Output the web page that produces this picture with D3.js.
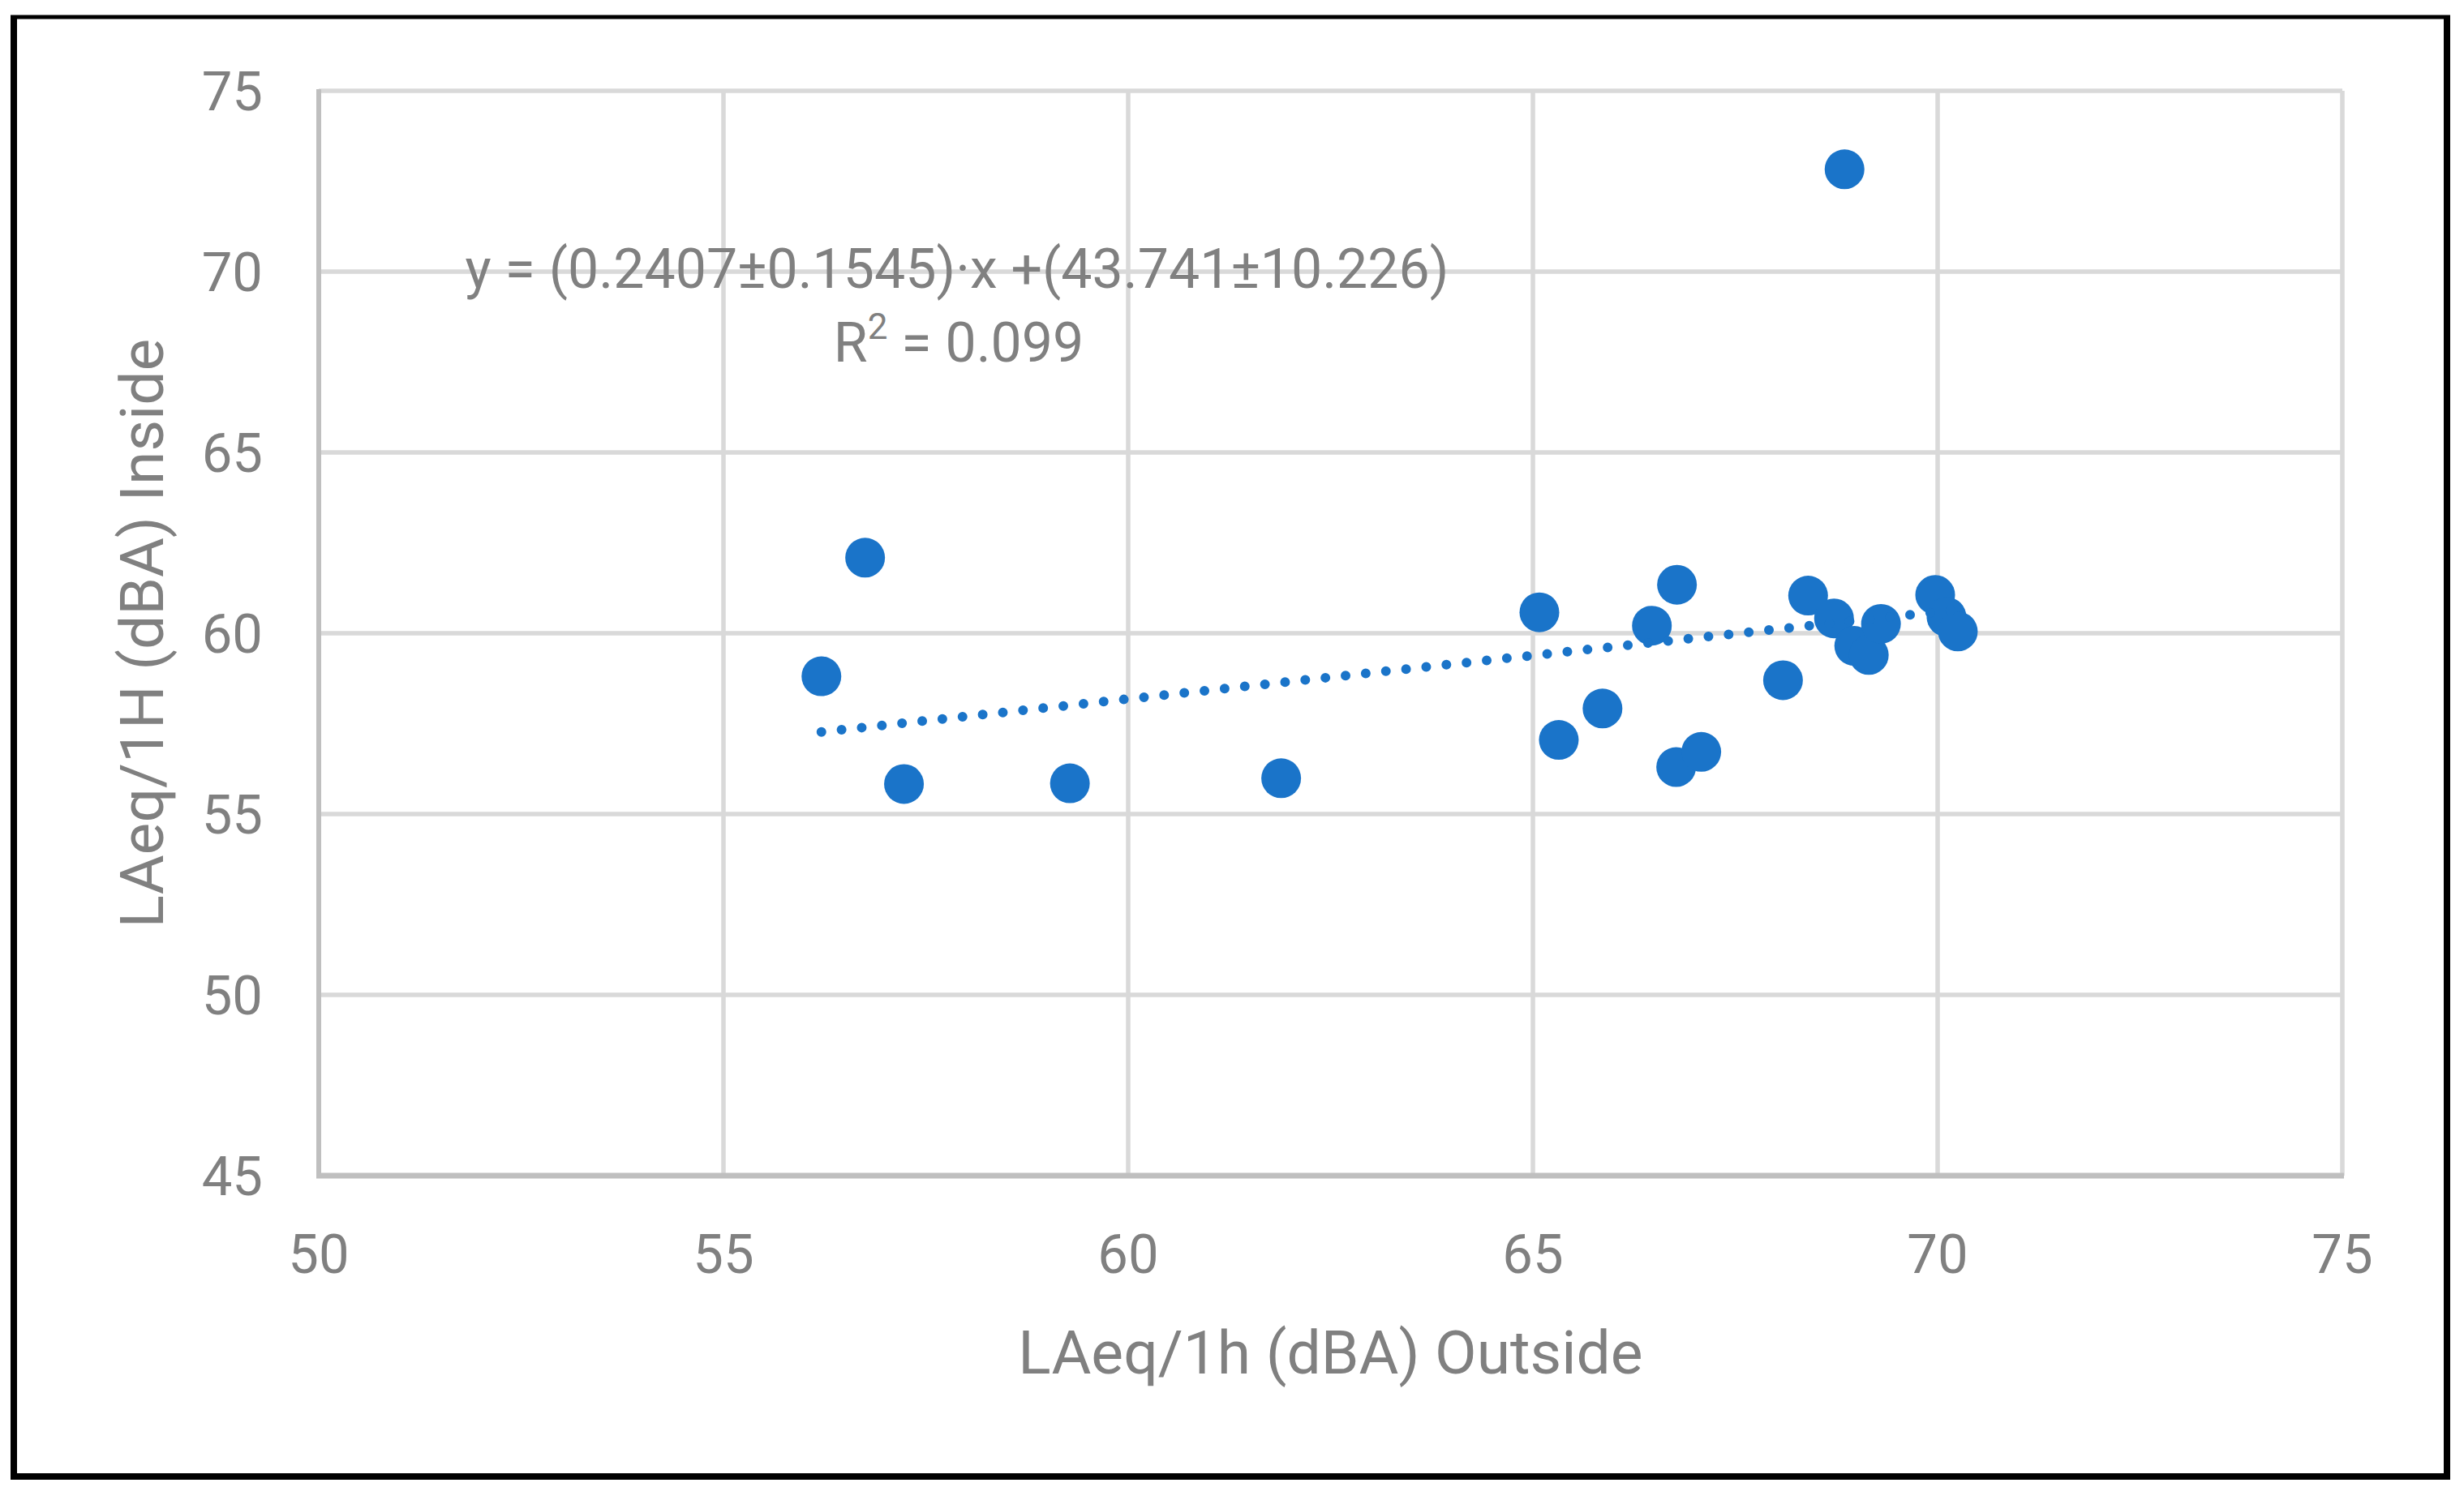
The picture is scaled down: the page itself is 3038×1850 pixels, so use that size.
<!DOCTYPE html>
<html>
<head>
<meta charset="utf-8">
<script src="https://cdn.jsdelivr.net/npm/d3@7"></script>
<style>
  html, body { margin: 0; padding: 0; background: #ffffff; }
  svg { display: block; }
  text { font-family: Roboto, "Open Sans", "Liberation Sans", sans-serif; fill: #808080; }
</style>
</head>
<body>
<script>
// ---- data ----
const outsideX = [56.21, 56.75, 57.23, 59.28, 61.89, 65.08, 65.32, 65.86, 66.47, 66.78, 66.77,
                  67.08, 68.09, 68.40, 68.72, 68.85, 68.97, 69.15, 69.30, 69.97, 70.11, 70.25];
const insideY  = [58.81, 62.09, 55.83, 55.85, 55.99, 60.58, 57.05, 57.92, 60.21, 61.34, 56.30,
                  56.72, 58.70, 61.04, 60.41, 72.83, 59.65, 59.40, 60.26, 61.06, 60.45, 60.05];
const xTicks = [50, 55, 60, 65, 70, 75];
const yTicks = [45, 50, 55, 60, 65, 70, 75];
const trendSlope = 0.2407;
const trendIntercept = 43.741;
const equationLines = ["y = (0.2407±0.1545)·x +(43.741±10.226)"];
const r2Label = "0.099";
const xTitle = "LAeq/1h (dBA) Outside";
const yTitle = "LAeq/1H (dBA) Inside";

// ---- layout ----
const W = 3038, H = 1850;
const plot = { left: 393, right: 2888, top: 112, bottom: 1450 };
const blue = "#1a74c9";

const svg = d3.select("body").append("svg")
  .attr("width", W).attr("height", H)
  .attr("viewBox", `0 0 ${W} ${H}`);

svg.append("rect").attr("width", W).attr("height", H).attr("fill", "#fff");

const x = d3.scaleLinear().domain([50, 75]).range([plot.left, plot.right]);
const y = d3.scaleLinear().domain([45, 75]).range([plot.bottom, plot.top]);

// gridlines
const grid = svg.append("g");
grid.selectAll("line.h").data(yTicks.filter(v => v !== 45)).join("line")
  .attr("x1", plot.left).attr("x2", plot.right)
  .attr("y1", d => y(d)).attr("y2", d => y(d))
  .attr("stroke", "#d9d9d9").attr("stroke-width", 5.5);
grid.selectAll("line.v").data(xTicks.filter(v => v !== 50)).join("line")
  .attr("y1", plot.top).attr("y2", plot.bottom)
  .attr("x1", d => x(d)).attr("x2", d => x(d))
  .attr("stroke", "#d9d9d9").attr("stroke-width", 5.5);

// axis lines
svg.append("line").attr("x1", x(50)).attr("x2", x(50)).attr("y1", plot.top - 2).attr("y2", plot.bottom)
  .attr("stroke", "#bfbfbf").attr("stroke-width", 6);
svg.append("line").attr("x1", x(50) - 3).attr("x2", plot.right + 2).attr("y1", y(45)).attr("y2", y(45))
  .attr("stroke", "#bfbfbf").attr("stroke-width", 7);

// tick labels
svg.append("g").selectAll("text").data(yTicks).join("text")
  .attr("x", 324).attr("y", d => y(d) + 24)
  .attr("text-anchor", "end").attr("font-size", 67)
  .text(d => d);
svg.append("g").selectAll("text").data(xTicks).join("text")
  .attr("x", d => x(d)).attr("y", 1570)
  .attr("text-anchor", "middle").attr("font-size", 67)
  .text(d => d);

// axis titles
svg.append("text").attr("x", (plot.left + plot.right) / 2).attr("y", 1694)
  .attr("text-anchor", "middle").attr("font-size", 75).text(xTitle);
svg.append("text").attr("transform", `translate(201,${(plot.top + plot.bottom) / 2}) rotate(-90)`)
  .attr("text-anchor", "middle").attr("font-size", 75).text(yTitle);

// points
svg.append("g").selectAll("circle").data(outsideX.map((v, i) => [v, insideY[i]])).join("circle")
  .attr("cx", d => x(d[0])).attr("cy", d => y(d[1])).attr("r", 24.5)
  .attr("fill", blue);

// trendline (dotted)
const xr = [d3.min(outsideX), d3.max(outsideX)];
const line = d3.line().x(d => x(d)).y(d => y(trendSlope * d + trendIntercept));
svg.append("path").attr("d", line(xr))
  .attr("fill", "none").attr("stroke", blue).attr("stroke-width", 12)
  .attr("stroke-linecap", "round").attr("stroke-dasharray", "0 25");

// equation label
svg.append("text").attr("x", 1180).attr("y", 355).attr("text-anchor", "middle")
  .attr("font-size", 68).text(equationLines[0]);
const r2 = svg.append("text").attr("x", 1182).attr("y", 446).attr("text-anchor", "middle")
  .attr("font-size", 68);
r2.append("tspan").text("R");
r2.append("tspan").attr("font-size", 44).attr("dy", -28).text("2");
r2.append("tspan").attr("dy", 28).text(" = " + r2Label);

// outer frame
const frame = svg.append("g").attr("stroke", "#000").attr("fill", "none");
frame.append("line").attr("x1", 13).attr("x2", 3021).attr("y1", 21).attr("y2", 21).attr("stroke-width", 5);
frame.append("line").attr("x1", 13).attr("x2", 3021).attr("y1", 1821).attr("y2", 1821).attr("stroke-width", 8);
frame.append("line").attr("x1", 17).attr("x2", 17).attr("y1", 19).attr("y2", 1825).attr("stroke-width", 8);
frame.append("line").attr("x1", 3017).attr("x2", 3017).attr("y1", 19).attr("y2", 1825).attr("stroke-width", 8);
</script>
</body>
</html>
